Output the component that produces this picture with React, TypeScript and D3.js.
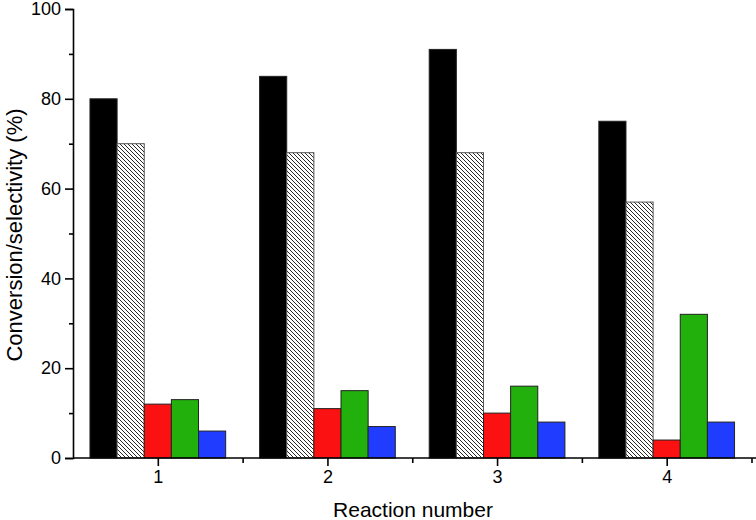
import React, { useEffect, useRef } from 'react';
import * as d3 from 'd3';

const reactions = [1, 2, 3, 4];
const seriesNames = ['conversion', 'selectivityA', 'selectivityB', 'selectivityC', 'selectivityD'];
const conversion = [80, 85, 91, 75];
const selectivityA = [70, 68, 68, 57];
const selectivityB = [12, 11, 10, 4];
const selectivityC = [13, 15, 16, 32];
const selectivityD = [6, 7, 8, 8];
const yTicks = [0, 20, 40, 60, 80, 100];

const fills = ['#000000', 'url(#hatch)', '#fb1111', '#22b00c', '#1f3cff'];

const App = () => {
  const ref = useRef<SVGSVGElement>(null);

  useEffect(() => {
    if (!ref.current) return;
    const svg = d3.select(ref.current);
    svg.selectAll('*').remove();

    const width = 756;
    const height = 520;
    const margin = { top: 9, right: 0, bottom: 62, left: 73 };
    const bottom = height - margin.bottom;

    // diagonal hatch for the second series
    const s = 4;
    const defs = svg.append('defs');
    const pat = defs.append('pattern')
      .attr('id', 'hatch')
      .attr('patternUnits', 'userSpaceOnUse')
      .attr('width', s)
      .attr('height', s);
    pat.append('rect').attr('width', s).attr('height', s).attr('fill', '#fff');
    pat.append('path')
      .attr('d', `M-1,-1 L${s + 1},${s + 1} M-1,${s - 1} L1,${s + 1} M${s - 1},-1 L${s + 1},1`)
      .attr('stroke', '#111')
      .attr('stroke-width', 0.9);

    const x = d3.scaleLinear().domain([0.5, 4.5]).range([margin.left, 751.5]);
    const y = d3.scaleLinear().domain([0, 100]).range([bottom, margin.top]);

    const series = [conversion, selectivityA, selectivityB, selectivityC, selectivityD];
    const step = x(2) - x(1);
    const bw = step * 0.16;

    const data = reactions.flatMap((r, i) =>
      series.map((v, k) => ({ r, k, v: v[i], name: seriesNames[k] }))
    );

    svg.append('g')
      .selectAll('rect')
      .data(data)
      .enter()
      .append('rect')
      .attr('x', d => x(d.r) - 2.5 * bw + d.k * bw)
      .attr('y', d => y(d.v))
      .attr('width', bw)
      .attr('height', d => bottom - y(d.v))
      .attr('fill', d => fills[d.k])
      .attr('stroke', d => (d.k === 1 ? '#555' : '#222'))
      .attr('stroke-width', 1);

    const font = 'Arial, "Liberation Sans", sans-serif';

    // Y axis
    const yAxis = svg.append('g').attr('transform', `translate(${margin.left},0)`);
    yAxis.call(d3.axisLeft(y).tickValues(yTicks).tickSize(8).tickPadding(4));
    yAxis.append('g').call(d3.axisLeft(y).tickValues(d3.range(10, 100, 20)).tickSize(4).tickFormat(() => ''));
    yAxis.selectAll('g g .domain').remove();
    yAxis.selectAll('.domain').attr('stroke-width', 1.6);
    yAxis.selectAll('line').attr('stroke-width', 1.6);
    yAxis.selectAll('text').style('font-family', font).style('font-size', '18px').attr('fill', '#000');

    // X axis
    const xAxis = svg.append('g').attr('transform', `translate(0,${bottom})`);
    xAxis.call(d3.axisBottom(x).tickValues(reactions).tickSize(8).tickPadding(4).tickFormat(d3.format('d')));
    xAxis.append('g').call(d3.axisBottom(x).tickValues([1.5, 2.5, 3.5, 4.5]).tickSize(5).tickFormat(() => ''));
    xAxis.selectAll('g g .domain').remove();
    xAxis.selectAll('.domain').attr('d', `M${margin.left},0H${width}`).attr('stroke-width', 1.6);
    xAxis.selectAll('line').attr('stroke-width', 1.6);
    xAxis.selectAll('text').style('font-family', font).style('font-size', '18px').attr('fill', '#000');

    svg.append('text')
      .attr('x', 413)
      .attr('y', 517)
      .attr('text-anchor', 'middle')
      .style('font-family', font)
      .style('font-size', '21px')
      .text('Reaction number');

    svg.append('text')
      .attr('transform', `translate(22,235) rotate(-90)`)
      .attr('text-anchor', 'middle')
      .style('font-family', font)
      .style('font-size', '22px')
      .text('Conversion/selectivity (%)');
  }, []);

  return (
    <svg
      ref={ref}
      width={756}
      height={520}
      style={{ position: 'absolute', left: 0, top: 0, background: '#fff' }}
    />
  );
};

export default App;
